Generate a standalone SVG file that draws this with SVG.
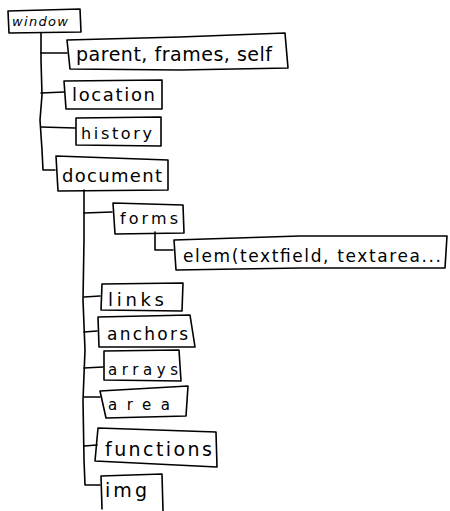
<svg xmlns="http://www.w3.org/2000/svg" width="450" height="511" viewBox="0 0 450 511">
<style>
.b{fill:none;stroke:#000;stroke-width:1.6;stroke-linejoin:round;stroke-linecap:round}
.c{fill:none;stroke:#000;stroke-width:1.6;stroke-linecap:round;stroke-linejoin:round}
text{font-family:"DejaVu Sans","Liberation Sans",sans-serif;fill:#000}
</style>
<rect width="450" height="511" fill="#fff"/>
<g id="connectors">
<path class="c" d="M41,33 L41,60 L42,95 L40,120 L42,150 L43,170 L55,170"/>
<path class="c" d="M41,53 L67,53"/>
<path class="c" d="M41,93 L64,92"/>
<path class="c" d="M41,127 L75,128"/>
<path class="c" d="M84,190 L84,240 L83,300 L85,350 L83,400 L84,460 L85,485 L100,485"/>
<path class="c" d="M84,213 L112,212"/>
<path class="c" d="M155,232 L155,250 L173,250"/>
<path class="c" d="M84,297 L100,296"/>
<path class="c" d="M84,332 L97,331"/>
<path class="c" d="M84,368 L103,367"/>
<path class="c" d="M84,397 L100,397"/>
<path class="c" d="M84,446 L97,445"/>
</g>
<g id="window"><path class="b" d="M8,11 L80,9 L81,32 L9,33 Z"/><text x="12" y="26" font-size="13" font-style="italic" textLength="56">window</text></g>
<g id="parent"><path class="b" d="M67,40 L180,37 L285,33 L288,68 L180,70 L70,69 Z"/><text x="76" y="61" font-size="19" textLength="196">parent, frames, self</text></g>
<g id="location"><path class="b" d="M64,81 L162,80 L162,109 L66,109 Z"/><text x="72" y="101" font-size="18" textLength="83">location</text></g>
<g id="history"><path class="b" d="M76,118 L161,117 L161,146 L76,145 Z"/><text x="81" y="139" font-size="16" textLength="71">history</text></g>
<g id="document"><path class="b" d="M56,156 L168,160 L168,190 L58,191 Z"/><text x="62" y="182" font-size="18" textLength="100">document</text></g>
<g id="forms"><path class="b" d="M113,203 L183,205 L184,233 L115,234 Z"/><text x="120" y="224" font-size="16" textLength="58">forms</text></g>
<g id="elem"><path class="b" d="M174,240 L300,236 L447,236 L445,268 L300,268 L176,270 Z"/><text x="183" y="262" font-size="17" textLength="258">elem(textfield, textarea...</text></g>
<g id="links"><path class="b" d="M102,284 L183,283 L182,311 L101,310 Z"/><text x="108" y="306" font-size="18" textLength="56">links</text></g>
<g id="anchors"><path class="b" d="M98,317 L190,315 L195,347 L99,347 Z"/><text x="107" y="340" font-size="17" textLength="81">anchors</text></g>
<g id="arrays"><path class="b" d="M104,351 L179,350 L181,381 L104,380 Z"/><text x="108" y="375" font-size="15" textLength="70">arrays</text></g>
<g id="area"><path class="b" d="M100,391 L188,386 L186,416 L106,418 Z"/><text x="108" y="410" font-size="15" textLength="62">area</text></g>
<g id="functions"><path class="b" d="M98,428 L216,432 L217,467 L95,461 Z"/><text x="105" y="456" font-size="19" textLength="107">functions</text></g>
<g id="img"><path class="b" d="M101,476 L162,474 L163,511 M101,476 L102,509"/><text x="105" y="497" font-size="19" textLength="42">img</text></g>
</svg>
